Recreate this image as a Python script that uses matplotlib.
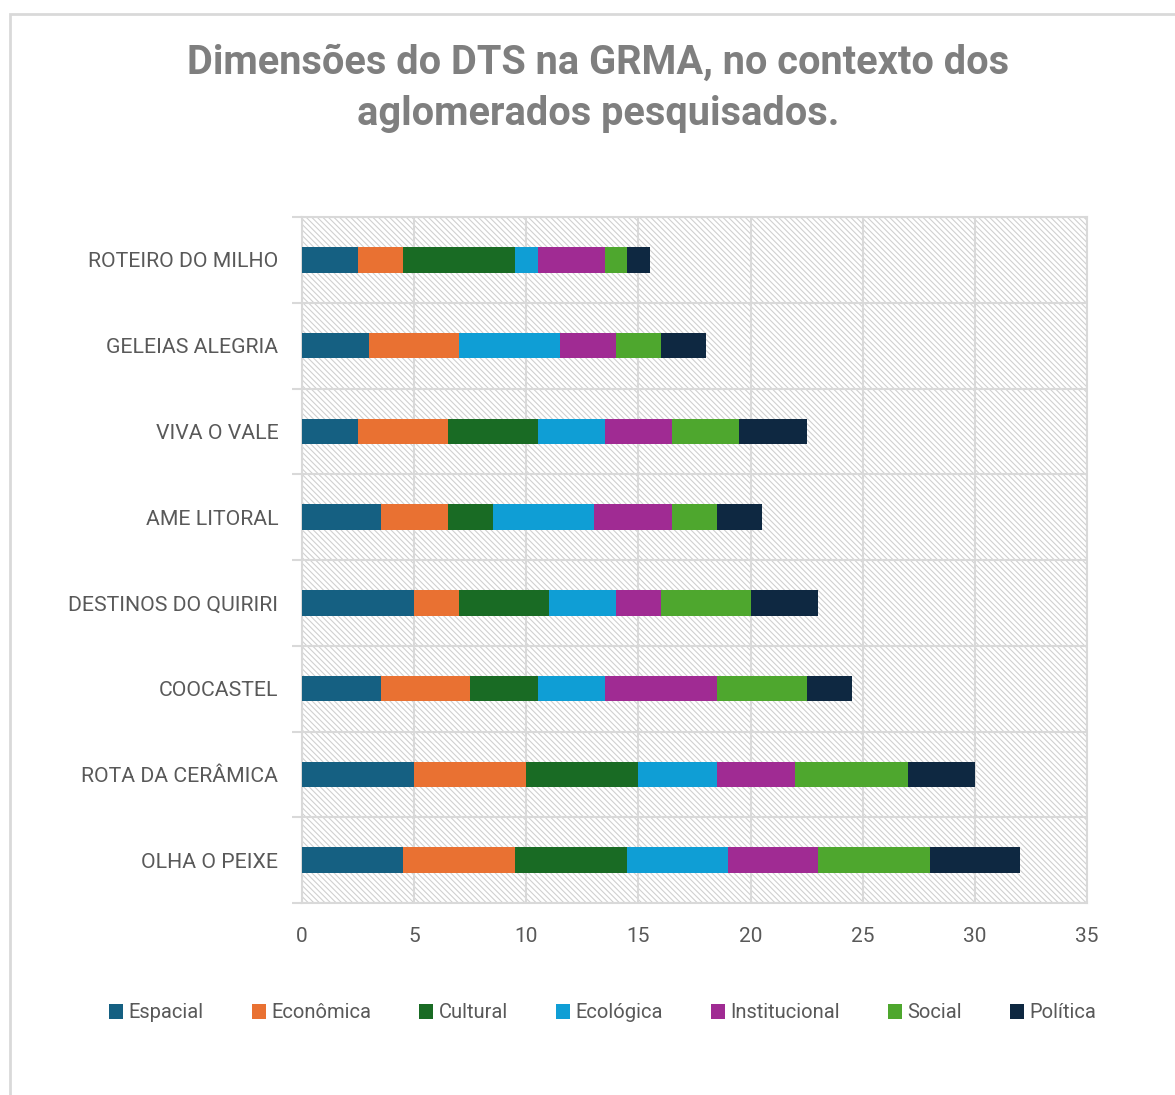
import numpy as np
import matplotlib
matplotlib.use("Agg")
from matplotlib import pyplot as plt
from matplotlib.patches import Rectangle

plt.rcParams['font.family'] = ['Roboto', 'DejaVu Sans']
plt.rcParams['hatch.color'] = '#d0d0d0'
plt.rcParams['hatch.linewidth'] = 0.8

categories = ['OLHA O PEIXE', 'ROTA DA CERÂMICA', 'COOCASTEL', 'DESTINOS DO QUIRIRI',
              'AME LITORAL', 'VIVA O VALE', 'GELEIAS ALEGRIA', 'ROTEIRO DO MILHO']

espacial      = [4.5, 5.0, 3.5, 5.0, 3.5, 2.5, 3.0, 2.5]
economica     = [5.0, 5.0, 4.0, 2.0, 3.0, 4.0, 4.0, 2.0]
cultural      = [5.0, 5.0, 3.0, 4.0, 2.0, 4.0, 0.0, 5.0]
ecologica     = [4.5, 3.5, 3.0, 3.0, 4.5, 3.0, 4.5, 1.0]
institucional = [4.0, 3.5, 5.0, 2.0, 3.5, 3.0, 2.5, 3.0]
social        = [5.0, 5.0, 4.0, 4.0, 2.0, 3.0, 2.0, 1.0]
politica      = [4.0, 3.0, 2.0, 3.0, 2.0, 3.0, 2.0, 1.0]

series = ['Espacial', 'Econômica', 'Cultural', 'Ecológica', 'Institucional', 'Social', 'Política']
colors = ['#156082', '#E97132', '#196B24', '#0F9ED5', '#A02B93', '#4EA72E', '#0E2841']
values = [espacial, economica, cultural, ecologica, institucional, social, politica]

fig = plt.figure(figsize=(11.75, 10.95), dpi=100)

# outer chart frame
fig.patches.append(Rectangle((10 / 1175, -0.1), 1.2, 1 - 14 / 1095 + 0.1,
                             transform=fig.transFigure, fill=False,
                             edgecolor='#d9d9d9', linewidth=2))

ax = fig.add_axes([302 / 1175, 1 - 903 / 1095, (1087 - 302) / 1175, (903 - 217) / 1095])

# hatched plot area
ax.add_patch(Rectangle((0, 0), 1, 1, transform=ax.transAxes, facecolor='white',
                       hatch='\\\\\\\\\\\\', edgecolor='#d0d0d0', linewidth=0, zorder=0))

y = np.arange(len(categories))
left = np.zeros(len(categories))
for name, col, vals in zip(series, colors, values):
    ax.barh(y, vals, left=left, height=0.3, color=col, label=name, zorder=3)
    left += np.array(vals)

ax.set_xlim(0, 35)
ax.set_ylim(-0.5, len(categories) - 0.5)
ax.set_xticks(range(0, 36, 5))
ax.set_yticks(y)
ax.set_yticklabels(categories)
ax.set_yticks(np.arange(-0.5, len(categories), 1), minor=True)

ax.grid(True, axis='x', which='major', color='#d9d9d9', linewidth=1.5, zorder=1)
ax.grid(True, axis='y', which='minor', color='#d9d9d9', linewidth=1.5, zorder=1)
ax.tick_params(axis='y', which='major', length=0, pad=17, labelsize=15.3, labelcolor='#595959')
ax.tick_params(axis='y', which='minor', length=7, color='#d9d9d9', width=1.5)
ax.tick_params(axis='x', length=0, pad=17, labelsize=15, labelcolor='#595959')
for s in ax.spines.values():
    s.set_color('#d9d9d9')
    s.set_linewidth(1.5)

fig.text(0.509, 1 - 63 / 1095, 'Dimensões do DTS na GRMA, no contexto dos',
         ha='center', va='center', fontsize=28.6, fontweight='bold', color='#7f7f7f')
fig.text(0.509, 1 - 114 / 1095, 'aglomerados pesquisados.',
         ha='center', va='center', fontsize=28.6, fontweight='bold', color='#7f7f7f')

fig.legend(loc='center', bbox_to_anchor=(0.513, 1 - 1013 / 1095), ncol=7, frameon=False,
           fontsize=14.5, labelcolor='#595959', handlelength=0.7, handleheight=0.7,
           handletextpad=0.25, columnspacing=2.4)

fig.savefig('out.png', dpi=100)
